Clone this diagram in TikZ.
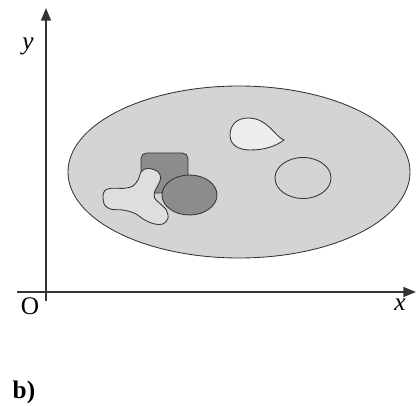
\documentclass[tikz,border=0pt]{standalone}
\usepackage{fontspec}
\setmainfont{Liberation Serif}
\usetikzlibrary{arrows.meta}

\tikzset{
    axis/.style={line width=1.2pt, draw=black!80, -{Triangle[length=9pt, width=7pt]}},
    region/.style={draw=black!80, line width=0.6pt},
    lbl/.style={font=\fontsize{18}{20}\selectfont, inner sep=0pt}
}

\begin{document}
\begin{tikzpicture}[x=0.025cm, y=-0.025cm]
    \useasboundingbox (0, 0) rectangle (416, 406);

    % axes
    \coordinate (xstart) at (17, 292);
    \coordinate (xend) at (416, 292);
    \coordinate (ystart) at (46, 301);
    \coordinate (yend) at (46, 8);
    \draw[axis] (xstart) -- (xend);
    \draw[axis] (ystart) -- (yend);

    \node[lbl] (ylabel) at (28, 46) {\textit{y}};
    \node[lbl] (xlabel) at (400, 305) {\textit{x}};
    \node[lbl] (olabel) at (30, 306) {O};
    \node[lbl] (caption) at (24, 392) {\textbf{b)}};

    % big region
    \filldraw[region, fill=black!17] (239, 172) ellipse [x radius=171, y radius=86];

    % small regions
    \draw[region] (303, 178) ellipse [x radius=28, y radius=20.5];
    \filldraw[region, fill=black!7] (284, 140) .. controls (275, 137) and (268, 118) .. (248, 118)
        .. controls (236, 118) and (230, 126) .. (230, 135)
        .. controls (230, 146) and (240, 150) .. (250, 150)
        .. controls (265, 150) and (276, 146) .. cycle;
    \filldraw[region, fill=black!45, rounded corners=4] (141, 153) rectangle (188, 193);
    \filldraw[region, fill=black!45] (189.5, 195) ellipse [x radius=27.5, y radius=20];
    \filldraw[region, fill=black!13] plot[smooth cycle, tension=0.55] coordinates {
        (141.3, 171.7) (148, 168.3) (158, 171.7) (160.7, 178.3) (158, 185)
        (154.7, 191.7) (154.7, 198.3) (159.7, 203.3) (166.3, 210) (168, 218.3)
        (163, 224) (154.7, 224) (144.7, 220) (134.7, 213.3) (123, 210)
        (111.3, 209.3) (104.7, 205) (103, 196.7) (104.7, 190.7) (111.3, 188.3)
        (124.7, 188.3) (133, 186) (138, 180)};
\end{tikzpicture}
\end{document}
